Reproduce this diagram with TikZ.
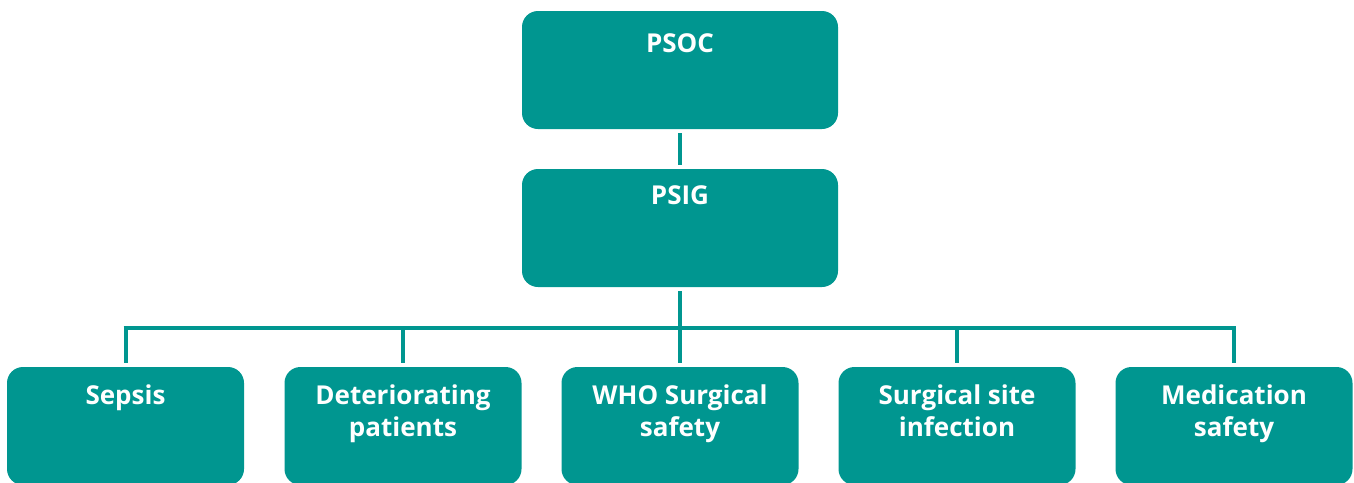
\documentclass[tikz,border=0pt]{standalone}
\usepackage{fontspec}
\setmainfont{Open Sans}
\definecolor{tealbox}{HTML}{009690}
\begin{document}
\begin{tikzpicture}[x=1pt,y=-1pt,
  box/.style={draw=none, fill=tealbox, rounded corners=16pt, inner sep=0pt},
  topbox/.style={box, minimum width=316pt, minimum height=118pt},
  subbox/.style={box, minimum width=237pt, minimum height=118pt},
  txt/.style={anchor=north, inner sep=0pt, text=white, align=center,
    font=\fontsize{26}{32}\selectfont\bfseries},
  link/.style={draw=tealbox, line width=4pt, shorten <=4pt, shorten >=4pt},
  bus/.style={draw=tealbox, line width=4pt}]
\useasboundingbox (0,0) rectangle (1354,482);
\node[topbox] (psoc) at (680,70) {};
\node[topbox] (psig) at (680,228) {};
\node[subbox] (sepsis) at (125.5,426) {};
\node[subbox] (deter) at (403,426) {};
\node[subbox] (who) at (680,426) {};
\node[subbox] (ssi) at (957,426) {};
\node[subbox] (med) at (1234,426) {};
\node[txt] (psoc-t) at (680,33.5) {PSOC};
\node[txt] (psig-t) at (680,185.5) {PSIG};
\node[txt] (sepsis-t) at (125.5,384.5) {Sepsis};
\node[txt] (deter-t) at (403,384.5) {Deteriorating\\patients};
\node[txt] (who-t) at (680,384.5) {WHO Surgical\\safety};
\node[txt] (ssi-t) at (957,384.5) {Surgical site\\infection};
\node[txt] (med-t) at (1234,384.5) {Medication\\safety};
\coordinate (junc) at (680,328);
\draw[link] (psoc) -- (psig);
\draw[link, shorten >=0pt] (psig) -- (junc);
\draw[bus] ([xshift=-2pt]junc -| sepsis) -- ([xshift=2pt]junc -| med);
\foreach \n in {sepsis,deter,who,ssi,med}
  \draw[link, shorten <=0pt] (junc -| \n) -- (\n);
\end{tikzpicture}
\end{document}
